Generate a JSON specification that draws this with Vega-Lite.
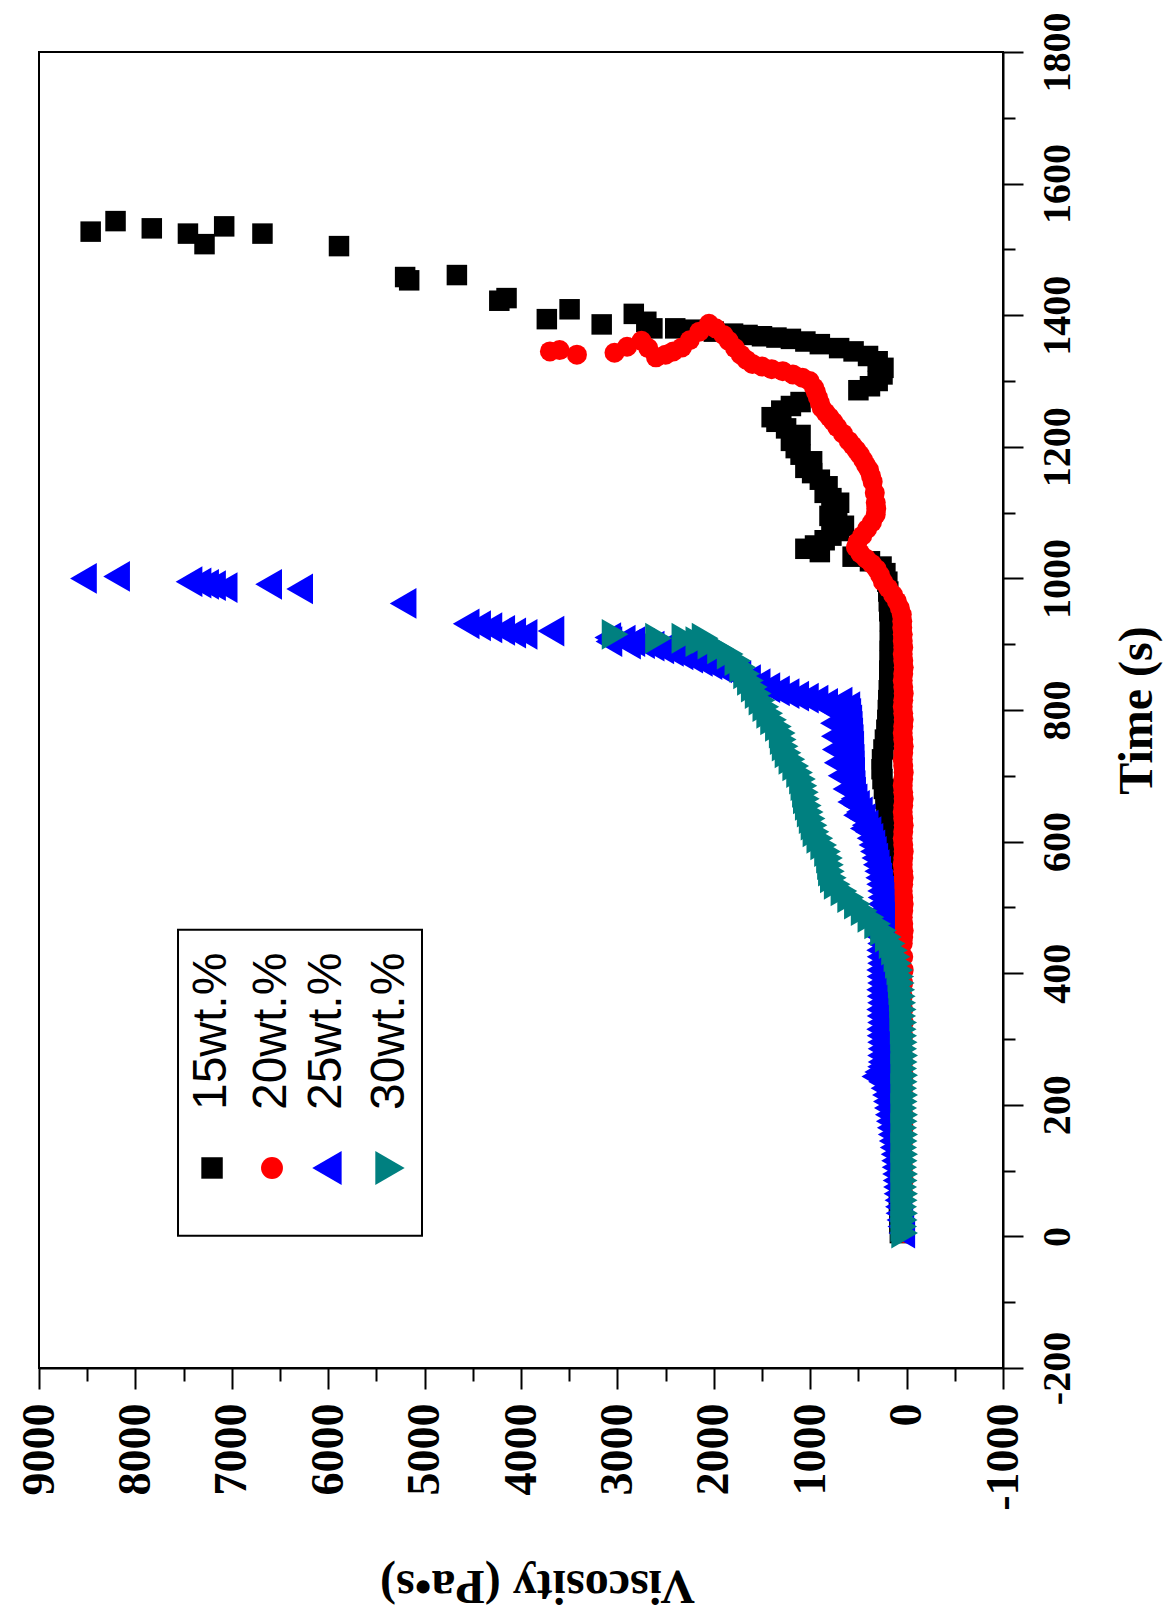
{
  "$schema": "https://vega.github.io/schema/vega-lite/v6.json",
  "width": 964,
  "height": 1316,
  "autosize": {"type": "none"},
  "padding": {"left": 39, "top": 52, "right": 164, "bottom": 253},
  "background": "white",
  "config": {"view": {"stroke": "black", "strokeWidth": 2}},
  "layer": [
  {
  "data": {"values": [
    {"s":"15wt.%","t":5,"v":70},{"s":"15wt.%","t":20,"v":75},{"s":"15wt.%","t":35,"v":70},{"s":"15wt.%","t":50,"v":80},{"s":"15wt.%","t":65,"v":75},{"s":"15wt.%","t":80,"v":70},{"s":"15wt.%","t":95,"v":80},{"s":"15wt.%","t":110,"v":75},{"s":"15wt.%","t":125,"v":70},{"s":"15wt.%","t":140,"v":80},{"s":"15wt.%","t":155,"v":75},{"s":"15wt.%","t":170,"v":70},{"s":"15wt.%","t":185,"v":80},{"s":"15wt.%","t":200,"v":75},{"s":"15wt.%","t":215,"v":70},{"s":"15wt.%","t":230,"v":80},{"s":"15wt.%","t":245,"v":75},{"s":"15wt.%","t":260,"v":70},{"s":"15wt.%","t":275,"v":80},{"s":"15wt.%","t":290,"v":75},{"s":"15wt.%","t":305,"v":70},{"s":"15wt.%","t":320,"v":80},{"s":"15wt.%","t":335,"v":75},{"s":"15wt.%","t":350,"v":70},{"s":"15wt.%","t":365,"v":80},{"s":"15wt.%","t":380,"v":75},{"s":"15wt.%","t":395,"v":80},{"s":"15wt.%","t":410,"v":85},{"s":"15wt.%","t":425,"v":90},{"s":"15wt.%","t":440,"v":95},{"s":"15wt.%","t":455,"v":100},{"s":"15wt.%","t":470,"v":110},{"s":"15wt.%","t":485,"v":120},{"s":"15wt.%","t":500,"v":140},{"s":"15wt.%","t":515,"v":170},{"s":"15wt.%","t":530,"v":200},{"s":"15wt.%","t":545,"v":230},{"s":"15wt.%","t":560,"v":220},{"s":"15wt.%","t":575,"v":210},{"s":"15wt.%","t":590,"v":200},{"s":"15wt.%","t":605,"v":200},{"s":"15wt.%","t":620,"v":195},{"s":"15wt.%","t":635,"v":200},{"s":"15wt.%","t":650,"v":210},{"s":"15wt.%","t":665,"v":220},{"s":"15wt.%","t":680,"v":235},{"s":"15wt.%","t":695,"v":250},{"s":"15wt.%","t":710,"v":260},{"s":"15wt.%","t":725,"v":255},{"s":"15wt.%","t":740,"v":240},{"s":"15wt.%","t":755,"v":225},{"s":"15wt.%","t":770,"v":210},{"s":"15wt.%","t":785,"v":200},{"s":"15wt.%","t":800,"v":195},{"s":"15wt.%","t":815,"v":190},{"s":"15wt.%","t":830,"v":185},{"s":"15wt.%","t":845,"v":180},{"s":"15wt.%","t":860,"v":180},{"s":"15wt.%","t":875,"v":175},{"s":"15wt.%","t":890,"v":175},{"s":"15wt.%","t":905,"v":175},{"s":"15wt.%","t":920,"v":170},{"s":"15wt.%","t":935,"v":175},{"s":"15wt.%","t":950,"v":180},{"s":"15wt.%","t":965,"v":185},{"s":"15wt.%","t":980,"v":190},{"s":"15wt.%","t":995,"v":200},{"s":"15wt.%","t":1008,"v":220},{"s":"15wt.%","t":1018,"v":260},{"s":"15wt.%","t":1026,"v":380},{"s":"15wt.%","t":1033,"v":560},{"s":"15wt.%","t":1040,"v":900},{"s":"15wt.%","t":1045,"v":1050},{"s":"15wt.%","t":1050,"v":950},{"s":"15wt.%","t":1058,"v":850},{"s":"15wt.%","t":1065,"v":780},{"s":"15wt.%","t":1072,"v":700},{"s":"15wt.%","t":1080,"v":650},{"s":"15wt.%","t":1088,"v":720},{"s":"15wt.%","t":1095,"v":800},{"s":"15wt.%","t":1105,"v":760},{"s":"15wt.%","t":1115,"v":700},{"s":"15wt.%","t":1122,"v":780},{"s":"15wt.%","t":1130,"v":850},{"s":"15wt.%","t":1140,"v":820},{"s":"15wt.%","t":1150,"v":900},{"s":"15wt.%","t":1160,"v":980},{"s":"15wt.%","t":1168,"v":1050},{"s":"15wt.%","t":1178,"v":980},{"s":"15wt.%","t":1188,"v":1100},{"s":"15wt.%","t":1198,"v":1150},{"s":"15wt.%","t":1209,"v":1200},{"s":"15wt.%","t":1218,"v":1100},{"s":"15wt.%","t":1228,"v":1250},{"s":"15wt.%","t":1238,"v":1350},{"s":"15wt.%","t":1245,"v":1400},{"s":"15wt.%","t":1255,"v":1300},{"s":"15wt.%","t":1262,"v":1200},{"s":"15wt.%","t":1268,"v":1100},{"s":"15wt.%","t":1286,"v":500},{"s":"15wt.%","t":1292,"v":380},{"s":"15wt.%","t":1300,"v":300},{"s":"15wt.%","t":1310,"v":250},{"s":"15wt.%","t":1320,"v":240},{"s":"15wt.%","t":1330,"v":300},{"s":"15wt.%","t":1338,"v":400},{"s":"15wt.%","t":1345,"v":550},{"s":"15wt.%","t":1350,"v":700},{"s":"15wt.%","t":1356,"v":900},{"s":"15wt.%","t":1360,"v":1050},{"s":"15wt.%","t":1364,"v":1200},{"s":"15wt.%","t":1366,"v":1350},{"s":"15wt.%","t":1368,"v":1500},{"s":"15wt.%","t":1370,"v":1650},{"s":"15wt.%","t":1372,"v":1800},{"s":"15wt.%","t":1375,"v":2000},{"s":"15wt.%","t":1378,"v":2200},{"s":"15wt.%","t":1380,"v":2400},{"s":"15wt.%","t":1380,"v":2637},{"s":"15wt.%","t":1390,"v":2700},{"s":"15wt.%","t":1402,"v":2830},{"s":"15wt.%","t":1386,"v":3163},{"s":"15wt.%","t":1409,"v":3496},{"s":"15wt.%","t":1394,"v":3732},{"s":"15wt.%","t":1422,"v":4225},{"s":"15wt.%","t":1426,"v":4150},{"s":"15wt.%","t":1461,"v":4665},{"s":"15wt.%","t":1458,"v":5202},{"s":"15wt.%","t":1453,"v":5160},{"s":"15wt.%","t":1505,"v":5888},{"s":"15wt.%","t":1524,"v":6682},{"s":"15wt.%","t":1535,"v":7079},{"s":"15wt.%","t":1508,"v":7283},{"s":"15wt.%","t":1524,"v":7455},{"s":"15wt.%","t":1532,"v":7830},{"s":"15wt.%","t":1543,"v":8206},{"s":"15wt.%","t":1527,"v":8464},

    {"s":"20wt.%","t":5,"v":30},{"s":"20wt.%","t":25,"v":35},{"s":"20wt.%","t":45,"v":40},{"s":"20wt.%","t":65,"v":35},{"s":"20wt.%","t":85,"v":30},{"s":"20wt.%","t":105,"v":35},{"s":"20wt.%","t":125,"v":40},{"s":"20wt.%","t":145,"v":35},{"s":"20wt.%","t":165,"v":30},{"s":"20wt.%","t":185,"v":35},{"s":"20wt.%","t":205,"v":40},{"s":"20wt.%","t":225,"v":35},{"s":"20wt.%","t":245,"v":30},{"s":"20wt.%","t":265,"v":35},{"s":"20wt.%","t":285,"v":40},{"s":"20wt.%","t":305,"v":35},{"s":"20wt.%","t":325,"v":30},{"s":"20wt.%","t":345,"v":35},{"s":"20wt.%","t":365,"v":40},{"s":"20wt.%","t":385,"v":35},{"s":"20wt.%","t":405,"v":30},{"s":"20wt.%","t":425,"v":35},{"s":"20wt.%","t":445,"v":40},{"s":"20wt.%","t":455,"v":35},{"s":"20wt.%","t":465,"v":30},{"s":"20wt.%","t":475,"v":35},{"s":"20wt.%","t":485,"v":40},{"s":"20wt.%","t":495,"v":35},{"s":"20wt.%","t":505,"v":30},{"s":"20wt.%","t":515,"v":35},{"s":"20wt.%","t":525,"v":40},{"s":"20wt.%","t":535,"v":35},{"s":"20wt.%","t":545,"v":30},{"s":"20wt.%","t":555,"v":35},{"s":"20wt.%","t":565,"v":40},{"s":"20wt.%","t":575,"v":35},{"s":"20wt.%","t":585,"v":30},{"s":"20wt.%","t":595,"v":35},{"s":"20wt.%","t":605,"v":40},{"s":"20wt.%","t":615,"v":35},{"s":"20wt.%","t":625,"v":30},{"s":"20wt.%","t":635,"v":35},{"s":"20wt.%","t":645,"v":40},{"s":"20wt.%","t":655,"v":35},{"s":"20wt.%","t":665,"v":30},{"s":"20wt.%","t":675,"v":35},{"s":"20wt.%","t":685,"v":40},{"s":"20wt.%","t":695,"v":35},{"s":"20wt.%","t":705,"v":30},{"s":"20wt.%","t":715,"v":35},{"s":"20wt.%","t":725,"v":40},{"s":"20wt.%","t":735,"v":35},{"s":"20wt.%","t":745,"v":30},{"s":"20wt.%","t":755,"v":35},{"s":"20wt.%","t":765,"v":40},{"s":"20wt.%","t":775,"v":35},{"s":"20wt.%","t":785,"v":30},{"s":"20wt.%","t":795,"v":35},{"s":"20wt.%","t":805,"v":40},{"s":"20wt.%","t":815,"v":35},{"s":"20wt.%","t":825,"v":30},{"s":"20wt.%","t":835,"v":35},{"s":"20wt.%","t":845,"v":40},{"s":"20wt.%","t":855,"v":35},{"s":"20wt.%","t":865,"v":30},{"s":"20wt.%","t":875,"v":35},{"s":"20wt.%","t":885,"v":40},{"s":"20wt.%","t":895,"v":35},{"s":"20wt.%","t":905,"v":40},{"s":"20wt.%","t":915,"v":40},{"s":"20wt.%","t":925,"v":45},{"s":"20wt.%","t":935,"v":45},{"s":"20wt.%","t":945,"v":50},{"s":"20wt.%","t":955,"v":70},{"s":"20wt.%","t":965,"v":100},{"s":"20wt.%","t":975,"v":140},{"s":"20wt.%","t":985,"v":190},{"s":"20wt.%","t":995,"v":245},{"s":"20wt.%","t":1005,"v":275},{"s":"20wt.%","t":1014,"v":310},{"s":"20wt.%","t":1022,"v":360},{"s":"20wt.%","t":1030,"v":420},{"s":"20wt.%","t":1038,"v":480},{"s":"20wt.%","t":1047,"v":525},{"s":"20wt.%","t":1055,"v":510},{"s":"20wt.%","t":1065,"v":460},{"s":"20wt.%","t":1075,"v":410},{"s":"20wt.%","t":1085,"v":360},{"s":"20wt.%","t":1097,"v":320},{"s":"20wt.%","t":1106,"v":315},{"s":"20wt.%","t":1115,"v":320},{"s":"20wt.%","t":1130,"v":330},{"s":"20wt.%","t":1147,"v":352},{"s":"20wt.%","t":1156,"v":370},{"s":"20wt.%","t":1165,"v":390},{"s":"20wt.%","t":1172,"v":420},{"s":"20wt.%","t":1180,"v":450},{"s":"20wt.%","t":1188,"v":485},{"s":"20wt.%","t":1195,"v":520},{"s":"20wt.%","t":1202,"v":560},{"s":"20wt.%","t":1209,"v":600},{"s":"20wt.%","t":1220,"v":660},{"s":"20wt.%","t":1230,"v":720},{"s":"20wt.%","t":1238,"v":760},{"s":"20wt.%","t":1245,"v":800},{"s":"20wt.%","t":1252,"v":840},{"s":"20wt.%","t":1259,"v":880},{"s":"20wt.%","t":1267,"v":900},{"s":"20wt.%","t":1275,"v":920},{"s":"20wt.%","t":1283,"v":940},{"s":"20wt.%","t":1290,"v":960},{"s":"20wt.%","t":1300,"v":1006},{"s":"20wt.%","t":1305,"v":1080},{"s":"20wt.%","t":1310,"v":1180},{"s":"20wt.%","t":1315,"v":1285},{"s":"20wt.%","t":1318,"v":1400},{"s":"20wt.%","t":1322,"v":1500},{"s":"20wt.%","t":1326,"v":1600},{"s":"20wt.%","t":1332,"v":1660},{"s":"20wt.%","t":1340,"v":1720},{"s":"20wt.%","t":1350,"v":1780},{"s":"20wt.%","t":1361,"v":1845},{"s":"20wt.%","t":1370,"v":1900},{"s":"20wt.%","t":1380,"v":1980},{"s":"20wt.%","t":1387,"v":2050},{"s":"20wt.%","t":1375,"v":2150},{"s":"20wt.%","t":1362,"v":2250},{"s":"20wt.%","t":1351,"v":2330},{"s":"20wt.%","t":1345,"v":2420},{"s":"20wt.%","t":1340,"v":2500},{"s":"20wt.%","t":1336,"v":2600},{"s":"20wt.%","t":1350,"v":2680},{"s":"20wt.%","t":1361,"v":2750},{"s":"20wt.%","t":1352,"v":2900},{"s":"20wt.%","t":1343,"v":3030},{"s":"20wt.%","t":1340,"v":3420},{"s":"20wt.%","t":1347,"v":3600},{"s":"20wt.%","t":1345,"v":3700},

    {"s":"25wt.%","t":5,"v":50},{"s":"25wt.%","t":15,"v":60},{"s":"25wt.%","t":25,"v":70},{"s":"25wt.%","t":35,"v":80},{"s":"25wt.%","t":45,"v":85},{"s":"25wt.%","t":55,"v":90},{"s":"25wt.%","t":65,"v":100},{"s":"25wt.%","t":75,"v":105},{"s":"25wt.%","t":85,"v":110},{"s":"25wt.%","t":95,"v":115},{"s":"25wt.%","t":105,"v":120},{"s":"25wt.%","t":115,"v":125},{"s":"25wt.%","t":125,"v":130},{"s":"25wt.%","t":135,"v":140},{"s":"25wt.%","t":145,"v":150},{"s":"25wt.%","t":155,"v":160},{"s":"25wt.%","t":165,"v":170},{"s":"25wt.%","t":175,"v":180},{"s":"25wt.%","t":185,"v":190},{"s":"25wt.%","t":195,"v":200},{"s":"25wt.%","t":205,"v":210},{"s":"25wt.%","t":215,"v":220},{"s":"25wt.%","t":225,"v":235},{"s":"25wt.%","t":235,"v":260},{"s":"25wt.%","t":243,"v":330},{"s":"25wt.%","t":250,"v":300},{"s":"25wt.%","t":258,"v":270},{"s":"25wt.%","t":265,"v":265},{"s":"25wt.%","t":275,"v":270},{"s":"25wt.%","t":285,"v":265},{"s":"25wt.%","t":295,"v":270},{"s":"25wt.%","t":305,"v":275},{"s":"25wt.%","t":315,"v":280},{"s":"25wt.%","t":325,"v":270},{"s":"25wt.%","t":335,"v":275},{"s":"25wt.%","t":345,"v":280},{"s":"25wt.%","t":355,"v":270},{"s":"25wt.%","t":365,"v":275},{"s":"25wt.%","t":375,"v":280},{"s":"25wt.%","t":385,"v":270},{"s":"25wt.%","t":395,"v":275},{"s":"25wt.%","t":405,"v":280},{"s":"25wt.%","t":415,"v":270},{"s":"25wt.%","t":425,"v":275},{"s":"25wt.%","t":435,"v":280},{"s":"25wt.%","t":445,"v":270},{"s":"25wt.%","t":455,"v":275},{"s":"25wt.%","t":465,"v":270},{"s":"25wt.%","t":475,"v":265},{"s":"25wt.%","t":485,"v":260},{"s":"25wt.%","t":495,"v":265},{"s":"25wt.%","t":505,"v":265},{"s":"25wt.%","t":515,"v":265},{"s":"25wt.%","t":525,"v":270},{"s":"25wt.%","t":535,"v":280},{"s":"25wt.%","t":545,"v":290},{"s":"25wt.%","t":555,"v":300},{"s":"25wt.%","t":565,"v":315},{"s":"25wt.%","t":575,"v":330},{"s":"25wt.%","t":585,"v":345},{"s":"25wt.%","t":595,"v":360},{"s":"25wt.%","t":605,"v":380},{"s":"25wt.%","t":615,"v":400},{"s":"25wt.%","t":625,"v":430},{"s":"25wt.%","t":635,"v":460},{"s":"25wt.%","t":645,"v":490},{"s":"25wt.%","t":655,"v":520},{"s":"25wt.%","t":665,"v":545},{"s":"25wt.%","t":675,"v":560},{"s":"25wt.%","t":685,"v":565},{"s":"25wt.%","t":695,"v":570},{"s":"25wt.%","t":705,"v":570},{"s":"25wt.%","t":715,"v":575},{"s":"25wt.%","t":725,"v":575},{"s":"25wt.%","t":735,"v":580},{"s":"25wt.%","t":745,"v":580},{"s":"25wt.%","t":755,"v":585},{"s":"25wt.%","t":765,"v":590},{"s":"25wt.%","t":775,"v":595},{"s":"25wt.%","t":785,"v":600},{"s":"25wt.%","t":795,"v":610},{"s":"25wt.%","t":805,"v":620},{"s":"25wt.%","t":620,"v":450},{"s":"25wt.%","t":640,"v":520},{"s":"25wt.%","t":660,"v":580},{"s":"25wt.%","t":680,"v":630},{"s":"25wt.%","t":700,"v":680},{"s":"25wt.%","t":720,"v":720},{"s":"25wt.%","t":740,"v":740},{"s":"25wt.%","t":760,"v":750},{"s":"25wt.%","t":780,"v":760},{"s":"25wt.%","t":800,"v":780},{"s":"25wt.%","t":810,"v":850},{"s":"25wt.%","t":812,"v":700},{"s":"25wt.%","t":815,"v":950},{"s":"25wt.%","t":818,"v":1050},{"s":"25wt.%","t":821,"v":1150},{"s":"25wt.%","t":825,"v":1250},{"s":"25wt.%","t":829,"v":1350},{"s":"25wt.%","t":834,"v":1450},{"s":"25wt.%","t":840,"v":1550},{"s":"25wt.%","t":846,"v":1650},{"s":"25wt.%","t":852,"v":1750},{"s":"25wt.%","t":858,"v":1850},{"s":"25wt.%","t":864,"v":1950},{"s":"25wt.%","t":869,"v":2050},{"s":"25wt.%","t":874,"v":2150},{"s":"25wt.%","t":879,"v":2250},{"s":"25wt.%","t":884,"v":2350},{"s":"25wt.%","t":889,"v":2450},{"s":"25wt.%","t":893,"v":2550},{"s":"25wt.%","t":897,"v":2650},{"s":"25wt.%","t":901,"v":2750},{"s":"25wt.%","t":904,"v":2850},{"s":"25wt.%","t":906,"v":2950},{"s":"25wt.%","t":910,"v":3100},{"s":"25wt.%","t":904,"v":3088},{"s":"25wt.%","t":900,"v":2895},{"s":"25wt.%","t":920,"v":3689},{"s":"25wt.%","t":915,"v":3968},{"s":"25wt.%","t":917,"v":4086},{"s":"25wt.%","t":921,"v":4200},{"s":"25wt.%","t":925,"v":4333},{"s":"25wt.%","t":928,"v":4450},{"s":"25wt.%","t":931,"v":4569},{"s":"25wt.%","t":962,"v":5223},{"s":"25wt.%","t":984,"v":6296},{"s":"25wt.%","t":991,"v":6618},{"s":"25wt.%","t":986,"v":7079},{"s":"25wt.%","t":989,"v":7200},{"s":"25wt.%","t":991,"v":7272},{"s":"25wt.%","t":993,"v":7350},{"s":"25wt.%","t":995,"v":7444},{"s":"25wt.%","t":1003,"v":8195},{"s":"25wt.%","t":1000,"v":8539},

    {"s":"30wt.%","t":5,"v":20},{"s":"30wt.%","t":15,"v":30},{"s":"30wt.%","t":25,"v":25},{"s":"30wt.%","t":35,"v":20},{"s":"30wt.%","t":45,"v":30},{"s":"30wt.%","t":55,"v":25},{"s":"30wt.%","t":65,"v":20},{"s":"30wt.%","t":75,"v":30},{"s":"30wt.%","t":85,"v":25},{"s":"30wt.%","t":95,"v":20},{"s":"30wt.%","t":105,"v":30},{"s":"30wt.%","t":115,"v":25},{"s":"30wt.%","t":125,"v":20},{"s":"30wt.%","t":135,"v":30},{"s":"30wt.%","t":145,"v":25},{"s":"30wt.%","t":155,"v":20},{"s":"30wt.%","t":165,"v":30},{"s":"30wt.%","t":175,"v":25},{"s":"30wt.%","t":185,"v":20},{"s":"30wt.%","t":195,"v":30},{"s":"30wt.%","t":205,"v":25},{"s":"30wt.%","t":215,"v":20},{"s":"30wt.%","t":225,"v":30},{"s":"30wt.%","t":235,"v":25},{"s":"30wt.%","t":245,"v":20},{"s":"30wt.%","t":255,"v":30},{"s":"30wt.%","t":265,"v":25},{"s":"30wt.%","t":275,"v":20},{"s":"30wt.%","t":285,"v":30},{"s":"30wt.%","t":295,"v":25},{"s":"30wt.%","t":305,"v":30},{"s":"30wt.%","t":315,"v":35},{"s":"30wt.%","t":325,"v":30},{"s":"30wt.%","t":335,"v":40},{"s":"30wt.%","t":345,"v":35},{"s":"30wt.%","t":355,"v":40},{"s":"30wt.%","t":365,"v":45},{"s":"30wt.%","t":375,"v":50},{"s":"30wt.%","t":385,"v":55},{"s":"30wt.%","t":395,"v":60},{"s":"30wt.%","t":405,"v":70},{"s":"30wt.%","t":415,"v":85},{"s":"30wt.%","t":425,"v":100},{"s":"30wt.%","t":435,"v":125},{"s":"30wt.%","t":445,"v":150},{"s":"30wt.%","t":455,"v":190},{"s":"30wt.%","t":465,"v":240},{"s":"30wt.%","t":475,"v":300},{"s":"30wt.%","t":485,"v":370},{"s":"30wt.%","t":495,"v":440},{"s":"30wt.%","t":505,"v":510},{"s":"30wt.%","t":515,"v":580},{"s":"30wt.%","t":525,"v":650},{"s":"30wt.%","t":535,"v":720},{"s":"30wt.%","t":545,"v":760},{"s":"30wt.%","t":555,"v":780},{"s":"30wt.%","t":565,"v":790},{"s":"30wt.%","t":575,"v":800},{"s":"30wt.%","t":585,"v":820},{"s":"30wt.%","t":595,"v":860},{"s":"30wt.%","t":605,"v":900},{"s":"30wt.%","t":615,"v":940},{"s":"30wt.%","t":625,"v":960},{"s":"30wt.%","t":635,"v":980},{"s":"30wt.%","t":645,"v":1000},{"s":"30wt.%","t":655,"v":1020},{"s":"30wt.%","t":665,"v":1040},{"s":"30wt.%","t":675,"v":1050},{"s":"30wt.%","t":685,"v":1065},{"s":"30wt.%","t":695,"v":1080},{"s":"30wt.%","t":705,"v":1110},{"s":"30wt.%","t":715,"v":1150},{"s":"30wt.%","t":725,"v":1190},{"s":"30wt.%","t":735,"v":1230},{"s":"30wt.%","t":745,"v":1260},{"s":"30wt.%","t":755,"v":1280},{"s":"30wt.%","t":765,"v":1290},{"s":"30wt.%","t":775,"v":1330},{"s":"30wt.%","t":785,"v":1380},{"s":"30wt.%","t":795,"v":1420},{"s":"30wt.%","t":805,"v":1460},{"s":"30wt.%","t":815,"v":1500},{"s":"30wt.%","t":825,"v":1540},{"s":"30wt.%","t":835,"v":1580},{"s":"30wt.%","t":845,"v":1620},{"s":"30wt.%","t":855,"v":1660},{"s":"30wt.%","t":865,"v":1700},{"s":"30wt.%","t":875,"v":1750},{"s":"30wt.%","t":885,"v":1830},{"s":"30wt.%","t":893,"v":1930},{"s":"30wt.%","t":900,"v":2030},{"s":"30wt.%","t":904,"v":2155},{"s":"30wt.%","t":909,"v":2090},{"s":"30wt.%","t":909,"v":2300},{"s":"30wt.%","t":909,"v":2573},{"s":"30wt.%","t":915,"v":3024}
  ]},
  "mark": {"type": "point", "filled": true, "opacity": 1, "strokeWidth": 0},
  "encoding": {
    "x": {
      "field": "v", "type": "quantitative",
      "scale": {"domain": [-1000, 9000], "reverse": true, "nice": false, "zero": false},
      "axis": {
        "orient": "bottom",
        "values": [-1000,-500,0,500,1000,1500,2000,2500,3000,3500,4000,4500,5000,5500,6000,6500,7000,7500,8000,8500,9000],
        "labelExpr": "datum.value % 1000 === 0 ? '' + datum.value : ''",
        "labelAngle": -90, "labelAlign": "right", "labelBaseline": "middle",
        "labelFont": "Liberation Serif", "labelFontWeight": "bold", "labelFontSize": 46, "labelColor": "black",
        "labelPadding": 14, "labelOverlap": false, "labelBound": false, "labelFlush": false,
        "tickSize": {"condition": {"test": "datum.value % 1000 === 0", "value": 21}, "value": 13},
        "tickColor": "black", "tickWidth": 2, "domainColor": "black", "domainWidth": 2, "grid": false,
        "title": "Viscosity (Pa•s)", "titleAngle": 180, "titleBaseline": "bottom",
        "titleFont": "Liberation Serif", "titleFontWeight": "bold", "titleFontSize": 48, "titleColor": "black",
        "titlePadding": 50, "titleX": 498
      }
    },
    "y": {
      "field": "t", "type": "quantitative",
      "scale": {"domain": [-200, 1800], "nice": false, "zero": false},
      "axis": {
        "orient": "right",
        "values": [-200,-100,0,100,200,300,400,500,600,700,800,900,1000,1100,1200,1300,1400,1500,1600,1700,1800],
        "labelExpr": "datum.value % 200 === 0 ? '' + datum.value : ''",
        "labelAngle": -90, "labelAlign": "center", "labelBaseline": "top",
        "labelFont": "Liberation Serif", "labelFontWeight": "bold", "labelFontSize": 40, "labelColor": "black",
        "labelPadding": 14, "labelOverlap": false, "labelBound": false, "labelFlush": false,
        "tickSize": {"condition": {"test": "datum.value % 200 === 0", "value": 20}, "value": 12},
        "tickColor": "black", "tickWidth": 2, "domainColor": "black", "domainWidth": 2, "grid": false,
        "title": "Time (s)", "titleAngle": -90, "titleBaseline": "top",
        "titleFont": "Liberation Serif", "titleFontWeight": "bold", "titleFontSize": 48, "titleColor": "black",
        "titlePadding": 36
      }
    },
    "color": {
      "field": "s", "type": "nominal",
      "scale": {"domain": ["15wt.%", "20wt.%", "25wt.%", "30wt.%"], "range": ["#000000", "#ff0000", "#0000ff", "#008080"]},
      "legend": null
    },
    "shape": {
      "field": "s", "type": "nominal",
      "scale": {"domain": ["15wt.%", "20wt.%", "25wt.%", "30wt.%"], "range": ["square", "circle", "triangle-left", "triangle-right"]},
      "legend": null
    },
    "size": {
      "condition": [
        {"test": "datum.s === '25wt.%' || datum.s === '30wt.%'", "value": 950},
        {"test": "datum.s === '20wt.%'", "value": 400}
      ],
      "value": 420
    }
  }
  },
  {"data": {"values": [{}]}, "mark": {"type": "rect", "fillOpacity": 0, "stroke": "black", "strokeWidth": 2},
   "encoding": {"x": {"datum": 7558}, "x2": {"datum": 5027}, "y": {"datum": 466}, "y2": {"datum": 1}}},
  {"data": {"values": [{}]}, "mark": {"type": "point", "shape": "square", "filled": true, "color": "#000000", "size": 460, "opacity": 1, "strokeWidth": 0},
   "encoding": {"x": {"datum": 7205}, "y": {"datum": 104}}},
  {"data": {"values": [{}]}, "mark": {"type": "point", "shape": "circle", "filled": true, "color": "#ff0000", "size": 480, "opacity": 1, "strokeWidth": 0},
   "encoding": {"x": {"datum": 6583}, "y": {"datum": 104}}},
  {"data": {"values": [{}]}, "mark": {"type": "point", "shape": "triangle-left", "filled": true, "color": "#0000ff", "size": 1150, "opacity": 1, "strokeWidth": 0},
   "encoding": {"x": {"datum": 6013}, "y": {"datum": 104}}},
  {"data": {"values": [{}]}, "mark": {"type": "point", "shape": "triangle-right", "filled": true, "color": "#008080", "size": 1150, "opacity": 1, "strokeWidth": 0},
   "encoding": {"x": {"datum": 5359}, "y": {"datum": 104}}},
  {"data": {"values": [{}]}, "mark": {"type": "text", "text": "15wt.%", "angle": -90, "align": "left", "baseline": "middle", "font": "Liberation Sans", "fontSize": 48, "color": "black"},
   "encoding": {"x": {"datum": 7205}, "y": {"datum": 192}}},
  {"data": {"values": [{}]}, "mark": {"type": "text", "text": "20wt.%", "angle": -90, "align": "left", "baseline": "middle", "font": "Liberation Sans", "fontSize": 48, "color": "black"},
   "encoding": {"x": {"datum": 6583}, "y": {"datum": 192}}},
  {"data": {"values": [{}]}, "mark": {"type": "text", "text": "25wt.%", "angle": -90, "align": "left", "baseline": "middle", "font": "Liberation Sans", "fontSize": 48, "color": "black"},
   "encoding": {"x": {"datum": 6013}, "y": {"datum": 192}}},
  {"data": {"values": [{}]}, "mark": {"type": "text", "text": "30wt.%", "angle": -90, "align": "left", "baseline": "middle", "font": "Liberation Sans", "fontSize": 48, "color": "black"},
   "encoding": {"x": {"datum": 5359}, "y": {"datum": 192}}}
  ]
}
